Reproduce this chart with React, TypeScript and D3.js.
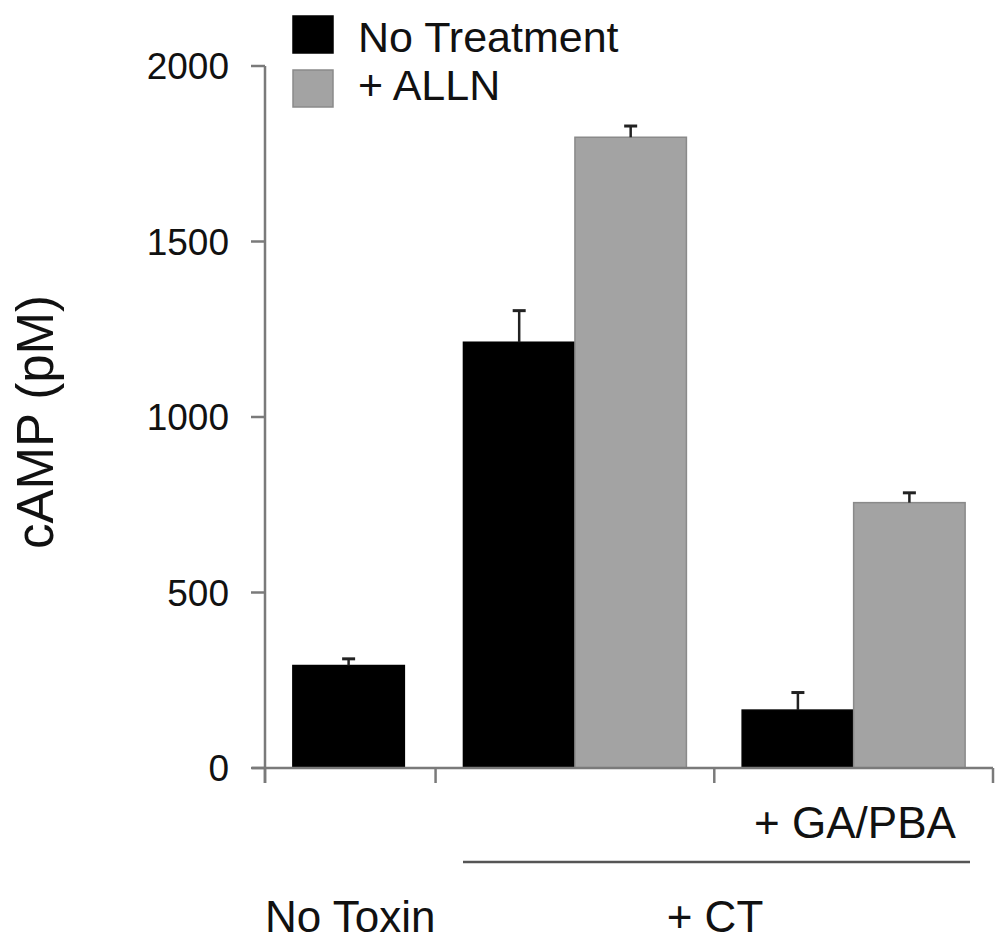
import React from "react";
import * as d3 from "d3";

const conditions = ["No Toxin", "+ CT", "+ CT + GA/PBA"];
const seriesNames = ["No Treatment", "+ ALLN"];
const noTreatment = [292, 1213, 165];
const noTreatmentErr = [19, 90, 50];
const alln: (number | null)[] = [null, 1797, 756];
const allnErr: (number | null)[] = [null, 32, 28];
const yTicks = [0, 500, 1000, 1500, 2000];

const colors = ["#000000", "#a3a3a3"];
const strokes = ["#000000", "#8a8a8a"];
const FONT = "Liberation Sans, Arial, Helvetica, sans-serif";

export default function App() {
  const W = 995, H = 943;
  const x0 = 265, x1 = 993, yBase = 768, yTop = 66;
  const y = d3.scaleLinear().domain([0, 2000]).range([yBase, yTop]);

  // group widths in units: number of bars + gap
  const groupUnits = conditions.map((_, i) => (alln[i] == null ? 1.53 : 2.5));
  const total = d3.sum(groupUnits);
  const x = d3.scaleLinear().domain([0, total]).range([x0, x1]);
  const starts: number[] = [];
  let acc = 0;
  groupUnits.forEach((u) => { starts.push(acc); acc += u; });
  const boundaries = [...starts, total];

  const bars: { x: number; w: number; v: number; e: number; s: number }[] = [];
  conditions.forEach((_, i) => {
    const st = starts[i] + 0.25;
    bars.push({ x: x(st), w: x(st + 1) - x(st), v: noTreatment[i], e: noTreatmentErr[i], s: 0 });
    if (alln[i] != null) {
      bars.push({ x: x(st + 1), w: x(st + 2) - x(st + 1), v: alln[i] as number, e: allnErr[i] as number, s: 1 });
    }
  });

  const axisColor = "#7a7a7a";

  return (
    <svg width={W} height={H} style={{ position: "absolute", left: 0, top: 0, background: "#fff" }} fontFamily={FONT}>
      {bars.map((b, i) => (
        <rect key={"b" + i} x={b.x} y={y(b.v)} width={b.w} height={yBase - y(b.v)}
          fill={colors[b.s]} stroke={strokes[b.s]} strokeWidth={1.5} />
      ))}
      {bars.map((b, i) => {
        const cx = b.x + b.w / 2;
        return (
          <g key={"e" + i} stroke="#222" strokeWidth={2.5}>
            <line x1={cx} x2={cx} y1={y(b.v)} y2={y(b.v + b.e)} />
            <line x1={cx - 6.5} x2={cx + 6.5} y1={y(b.v + b.e)} y2={y(b.v + b.e)} strokeWidth={3} />
          </g>
        );
      })}
      <line x1={x0} x2={x0} y1={yTop} y2={yBase + 15} stroke={axisColor} strokeWidth={2.5} />
      {yTicks.map((t) => (
        <g key={"yt" + t}>
          <line x1={x0 - 14} x2={x0} y1={y(t)} y2={y(t)} stroke={axisColor} strokeWidth={2.5} />
          <text x={229} y={y(t)} dy="0.36em" textAnchor="end" fontSize={37} fill="#111">{t}</text>
        </g>
      ))}
      <line x1={252} x2={x1} y1={yBase} y2={yBase} stroke={axisColor} strokeWidth={2.5} />
      {boundaries.map((b, i) => (
        <line key={"xt" + i} x1={x(b)} x2={x(b)} y1={yBase} y2={yBase + 15} stroke={axisColor} strokeWidth={2.5} />
      ))}
      <text transform={`translate(53,422) rotate(-90)`} textAnchor="middle" fontSize={51} fill="#111">cAMP (pM)</text>
      {seriesNames.map((n, i) => (
        <g key={"lg" + i}>
          <rect x={293} y={16 + i * 54} width={40} height={37} fill={colors[i]} stroke={strokes[i]} strokeWidth={1.5} />
          <text x={358} y={52 + i * 48} fontSize={43} fill="#111">{n}</text>
        </g>
      ))}
      <text x={855} y={838} textAnchor="middle" fontSize={44} fill="#111">+ GA/PBA</text>
      <line x1={463} x2={970} y1={862} y2={862} stroke="#555" strokeWidth={2.5} />
      <text x={265} y={932} fontSize={44} fill="#111">No Toxin</text>
      <text x={715} y={932} textAnchor="middle" fontSize={44} fill="#111">+ CT</text>
    </svg>
  );
}
